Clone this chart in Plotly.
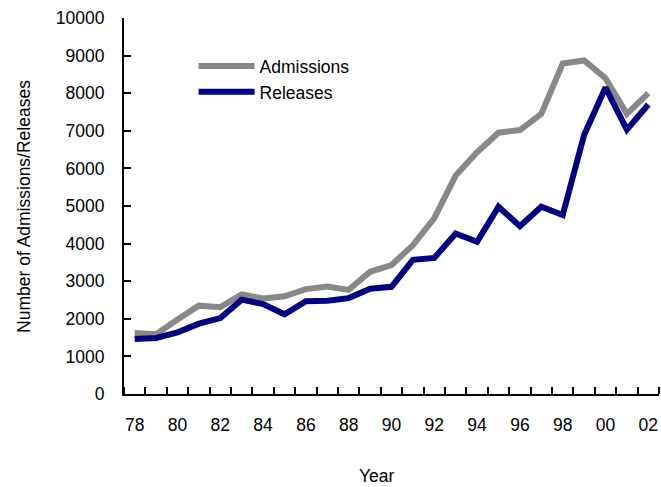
import plotly.graph_objects as go

years = list(range(1978, 2003))
admissions = [1620, 1590, 1980, 2350, 2310, 2650, 2540, 2600, 2790, 2860, 2770,
              3250, 3430, 3960, 4680, 5810, 6430, 6950, 7020, 7450, 8790, 8870,
              8400, 7450, 8000]
releases = [1460, 1490, 1640, 1870, 2020, 2510, 2390, 2120, 2470, 2480, 2550,
            2800, 2850, 3570, 3620, 4270, 4050, 4980, 4460, 4980, 4760, 6890,
            8150, 7030, 7700]
tick_years = list(range(1978, 2003, 2))
tick_labels = [f"{y % 100:02d}" for y in tick_years]

FONT = "Liberation Sans, Arial, sans-serif"
FS = 17.5

fig = go.Figure()
fig.add_trace(go.Scatter(x=years, y=admissions, mode="lines", name="Admissions",
                         line=dict(color="#888888", width=6)))
fig.add_trace(go.Scatter(x=years, y=releases, mode="lines", name="Releases",
                         line=dict(color="#000080", width=6)))

fig.update_layout(
    width=661, height=487,
    margin=dict(l=124, r=2, t=18, b=93),
    plot_bgcolor="white", paper_bgcolor="white",
    font=dict(family=FONT, size=FS, color="black"),
    showlegend=True,
    legend=dict(x=0.13, y=0.92, xanchor="left", yanchor="top",
                bgcolor="rgba(0,0,0,0)", font=dict(size=FS),
                itemwidth=56, tracegroupgap=0),
    xaxis=dict(range=[1977.5, 2002.5], tickmode="array", tickvals=tick_years,
               ticktext=tick_labels, ticks="", showline=True, linecolor="black",
               linewidth=2, showgrid=False, zeroline=False,
               ticklabelstandoff=14,
               minor=dict(ticks="inside", ticklen=7, tickwidth=2, tickcolor="black",
                          tick0=1977.5, dtick=1, showgrid=False)),
    yaxis=dict(range=[0, 10000], dtick=1000, tickformat="d", ticks="inside",
               ticklen=7, tickwidth=2, tickcolor="black", showline=True,
               linecolor="black", linewidth=2, showgrid=False, zeroline=False,
               ticklabelstandoff=14),
    annotations=[
        dict(text="Year", xref="paper", yref="paper", x=0.473, y=-0.217,
             xanchor="center", yanchor="middle", showarrow=False, font=dict(size=FS)),
        dict(text="Number of Admissions/Releases", xref="paper", yref="paper",
             x=-0.187, y=0.5, textangle=-90, xanchor="center", yanchor="middle",
             showarrow=False, font=dict(size=FS)),
    ],
)

fig.write_html("out.html", config={"displayModeBar": False},
               post_script="document.body.style.margin='0';document.body.style.overflow='hidden';")
